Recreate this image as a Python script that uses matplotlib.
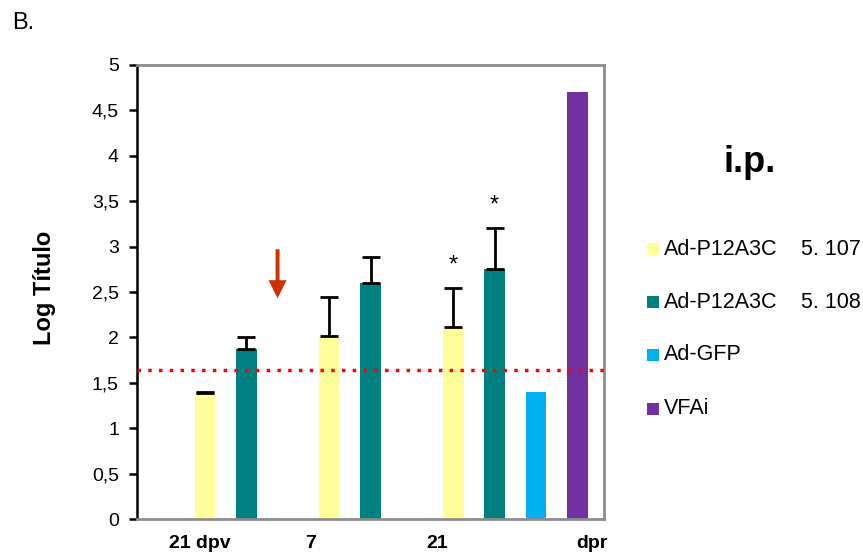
import matplotlib
matplotlib.use("Agg")
import matplotlib.pyplot as plt
from matplotlib.patches import FancyArrow, Rectangle

plt.rcParams['font.family'] = ['Liberation Sans', 'DejaVu Sans']

# Time points (groups) and series
groups = ["21 dpv", "7", "21"]
end_label = "dpr"
series_names = ["Ad-P12A3C", "Ad-P12A3C", "Ad-GFP", "VFAi"]
series_doses = ["5. 107", "5. 108", "", ""]
series_colors = ["#FFFF99", "#008080", "#00B0F0", "#7030A0"]

# Log titre per series, per group (None = not measured at that time point)
p12_low = [1.39, 2.02, 2.11]
p12_low_err = [0.01, 0.43, 0.43]
p12_high = [1.87, 2.60, 2.75]
p12_high_err = [0.13, 0.29, 0.45]
gfp = [None, None, 1.40]
vfai = [None, None, 4.70]

values = [p12_low, p12_high, gfp, vfai]
errors = [p12_low_err, p12_high_err, None, None]
significant = [[False, False, True], [False, False, True], None, None]

detection_limit = 1.645
challenge_from, challenge_to = 2.97, 2.43   # arrow between 21 dpv and day 7

fig = plt.figure(figsize=(8.63, 5.55), dpi=100)
ax = fig.add_axes([137 / 863, 1 - 519 / 555, (604 - 137) / 863, (519 - 65) / 555])

group_start = [0, 3, 6]
bar_w = 0.5
for si, (vals, col) in enumerate(zip(values, series_colors)):
    for gi, v in enumerate(vals):
        if v is None:
            continue
        x = group_start[gi] + si
        ax.bar(x, v, width=bar_w, color=col, zorder=2)
        if errors[si] is not None:
            e = errors[si][gi]
            ax.errorbar(x, v, yerr=[[0], [e]], fmt='none', ecolor='black',
                        elinewidth=2, capsize=6.5, capthick=2, zorder=3)
            if significant[si][gi]:
                ax.text(x, v + e + 0.25, "*", ha='center', va='center',
                        fontsize=17, color='black')

# Detection limit
ax.axhline(detection_limit, color='#FF0000', linestyle=(0, (1, 2.1)),
           linewidth=2.5, zorder=4)

# Arrow marking the challenge
arrow_x = 1.755
ax.add_patch(FancyArrow(arrow_x, challenge_from, 0, challenge_to - challenge_from,
                        width=4 / 41.4, head_width=18 / 41.4, head_length=0.2,
                        length_includes_head=True, color='#CC3300', lw=0,
                        zorder=5))

ax.set_xlim(-1.64, 9.64)
ax.set_ylim(0, 5)
yt = [0, 0.5, 1, 1.5, 2, 2.5, 3, 3.5, 4, 4.5, 5]
ax.set_yticks(yt)
ax.set_yticklabels([("%g" % t).replace('.', ',') for t in yt], fontsize=14)
ax.set_xticks([])
ax.tick_params(axis='y', direction='out', length=6, width=1.8, pad=7,
               color='black')

for side in ('top', 'right', 'bottom'):
    ax.spines[side].set_color('#8C8C8C')
    ax.spines[side].set_linewidth(2)
ax.spines['left'].set_color('black')
ax.spines['left'].set_linewidth(1.8)

# Group labels under the axis
label_px = [200, 311, 437, 592]
for lbl, px in zip(groups + [end_label], label_px):
    fig.text(px / 863, 1 - 543 / 555, lbl, ha='center', va='center',
             fontsize=14, fontweight='bold')

fig.text(45 / 863, 1 - 288 / 555, "Log Título", rotation=90, ha='center',
         va='center', fontsize=17, fontweight='bold')
fig.text(12 / 863, 1 - 23 / 555, "B.", ha='left', va='center', fontsize=17)
fig.text(750 / 863, 1 - 172 / 555, "i.p.", ha='center', va='baseline',
         fontsize=26, fontweight='bold')

# Legend
row_y = [249, 302, 355, 409]
for name, dose, col, ry in zip(series_names, series_doses, series_colors, row_y):
    fig.patches.append(Rectangle((647 / 863, 1 - (ry + 6) / 555), 12 / 863,
                                 12 / 555, transform=fig.transFigure,
                                 facecolor=col, edgecolor='none'))
    fig.text(664 / 863, 1 - ry / 555, name, ha='left', va='center',
             fontsize=15.5)
    if dose:
        fig.text(801 / 863, 1 - ry / 555, dose, ha='left', va='center',
                 fontsize=15.5)

fig.savefig("out.png", dpi=100)
